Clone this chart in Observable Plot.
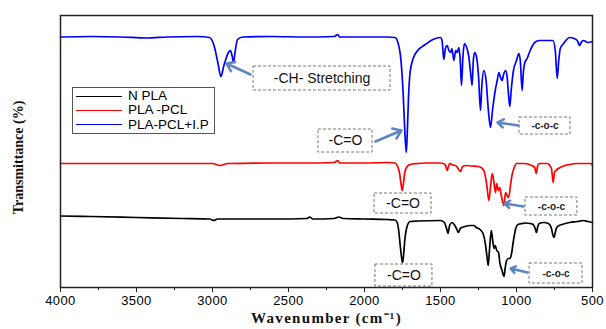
<!DOCTYPE html>
<html>
<head>
<meta charset="utf-8">
<script src="https://cdn.jsdelivr.net/npm/d3@7"></script>
<script src="https://cdn.jsdelivr.net/npm/@observablehq/plot@0.6"></script>
<style>
  body { margin: 0; background: #fff; }
  #chart { position: relative; width: 606px; height: 329px; }
  #legend {
    position: absolute; left: 72px; top: 87px;
    border: 1px solid #555; background: #fff;
    padding: 1px 5px 1px 3px;
    font-family: "Liberation Sans", Arial, sans-serif; font-size: 13.5px; line-height: 14.3px;
  }
  #legend .row { display: flex; align-items: center; white-space: nowrap; }
  #legend .sw { width: 46px; height: 0; border-top: 1.5px solid; margin-right: 6px; }
  .ann { font-family: "Liberation Sans", Arial, sans-serif; }
  .ttl { letter-spacing: 1.3px; }
  .tk text { letter-spacing: 0.4px; }
</style>
</head>
<body>
<div id="chart"><div id="legend"></div></div>
<script>
// ---- data (wavenumber cm^-1, offset transmittance a.u.) ----
const seriesNames = ["N PLA", "PLA -PCL", "PLA-PCL+I.P"];
const seriesColors = ["#000000", "#ff0000", "#0000ff"];

const blueWn = [4000,3800,3600,3430,3300,3100,3020,2990,2965,2945,2925,2895,2882,2870,2862,2852,2835,2800,2600,2400,2200,2175,2165,2000,1850,1800,1780,1760,1745,1735,1725,1718,1710,1700,1680,1650,1600,1550,1500,1490,1478,1468,1456,1445,1434,1425,1412,1400,1390,1379,1370,1362,1352,1342,1330,1315,1300,1292,1284,1276,1265,1250,1237,1228,1215,1200,1185,1171,1158,1140,1127,1116,1105,1095,1085,1072,1062,1052,1044,1035,1020,1000,985,975,963,955,945,930,910,880,850,800,760,745,732,722,712,690,650,620,600,585,575,560,530,500];
const blueT  = [250.5,251,250.5,249.5,250.5,251,250,242,225,211,222,235,237,231,225,235,248,250.5,251,250.5,251,253,250.5,250.5,250.5,250,245,227,192,157,135,157,192,215,229,237,243,248,250,247,228,239,242,237,235,239,227,237,235,240,227,202,232,244,241,232,212,202,227,235,232,212,177,202,217,207,177,160,177,197,207,215,210,207,213,217,211,192,181,197,217,227,234,227,197,215,225,229,237,245,247,247,247,237,209,227,239,244,250,249,247,242,245,247,245,246];

const redWn = [4000,3500,3000,2950,2900,2600,2400,2200,2175,2165,2000,1850,1800,1785,1770,1760,1752,1744,1735,1720,1700,1650,1600,1500,1470,1456,1448,1440,1420,1400,1385,1368,1355,1330,1300,1250,1215,1195,1182,1170,1160,1150,1138,1130,1120,1110,1100,1083,1072,1062,1051,1040,1030,1015,1000,950,900,880,870,862,850,800,770,759,750,740,725,700,650,600,550,510,500];
const redT  = [124,124,124,122,124,124.5,124.5,125,127,124.5,124.5,125,124.5,122,115,104,97,104,115,121,123,124,124.5,124.5,123,117,121,124,122.5,122,119,116,121,122,121.5,121,117,102,87,102,114,107,95,104,97,100,92,82,95,92,90,102,112,120,124,124,122,120,114,121,124,124,119,105,115,117,119,121,123,124,124,124,122];

const blackWn = [4000,3800,3500,3200,3020,2990,2970,2800,2600,2380,2360,2340,2200,2170,2140,2000,1850,1800,1785,1775,1765,1755,1750,1745,1735,1720,1700,1650,1500,1475,1460,1451,1440,1425,1410,1395,1382,1370,1340,1300,1280,1265,1240,1220,1205,1195,1186,1178,1166,1155,1147,1140,1130,1118,1110,1095,1082,1075,1065,1055,1044,1035,1020,1005,990,960,940,910,890,877,869,860,850,820,790,770,760,752,745,735,720,700,650,600,560,530,500];
const blackT  = [71.5,71,70,69,68.5,67,68.5,68.5,68.5,69,70.5,68.5,69,70.5,69,68.5,68,67.5,65,57,42,29,25,29,47,61,66,66.5,67,65,59,54,62,65,63,59,55,59,61,62,62,60,58,54,44,32,22,37,57,45,39,42,37,35,25,17,11,19,27,29,29,32,47,59,63,64,64.5,64,63,59,55,61,64,65,64,59,52,50,55,60,62,63,65,66,67,66,65];

const xTicks = [4000,3500,3000,2500,2000,1500,1000,500];
const xMinorTicks = [3750,3250,2750,2250,1750,1250,750];

// annotations: label, box (wn1, wn2, t1, t2), arrow (from wn,t -> to wn,t)
const annLabels = ["-CH- Stretching", "-C=O", "-c-o-c", "-C=O", "-c-o-c", "-C=O", "-c-o-c"];
const annSize   = [14, 14, 9, 14, 9, 14, 9];
const annBoxWn1 = [2730, 2303, 980, 1934, 941, 1928, 914];
const annBoxWn2 = [1829, 1947, 645, 1559, 599, 1553, 566];
const annBoxT1  = [221, 158, 170, 94, 90, 23, 24];
const annBoxT2  = [197, 135, 153, 74, 72, 1, 4];
const arrFromWn = [2750, 1928, 987, 954, 928];
const arrFromT  = [213, 146, 162, 81, 15];
const arrToWn   = [2908, 1757, 1125, 1079, 1039];
const arrToT    = [224, 157, 165, 84, 19];

// ---- build tables ----
const spectra = [];
[[blackWn, blackT, 0], [redWn, redT, 1], [blueWn, blueT, 2]].forEach(([w, t, k]) => {
  w.forEach((wn, i) => spectra.push({wn, t: t[i], s: seriesNames[k]}));
});
const ann = annLabels.map((label, i) => ({
  label, size: annSize[i],
  x1: annBoxWn1[i], x2: annBoxWn2[i], y1: annBoxT1[i], y2: annBoxT2[i],
  cx: (annBoxWn1[i] + annBoxWn2[i]) / 2, cy: (annBoxT1[i] + annBoxT2[i]) / 2
}));
const arrows = arrFromWn.map((w, i) => ({x1: w, y1: arrFromT[i], x2: arrToWn[i], y2: arrToT[i]}));

const plot = Plot.plot({
  width: 606, height: 329,
  marginLeft: 60, marginRight: 14, marginTop: 15, marginBottom: 42,
  style: {fontFamily: "'Liberation Sans', Arial, sans-serif", background: "#fff"},
  x: {domain: [4000, 500]},
  y: {domain: [0, 272], axis: null},
  color: {domain: seriesNames, range: seriesColors},
  marks: [
    Plot.line(spectra, {x: "wn", y: "t", z: "s", stroke: "s", strokeWidth: 1.7, curve: "monotone-x"}),
    Plot.rect(ann, {x1: "x1", x2: "x2", y1: "y1", y2: "y2", fill: "white", fillOpacity: 0.85, stroke: "#777", strokeDasharray: "3,2", strokeWidth: 1}),
    Plot.text(ann.filter(d => d.size > 10), {x: "cx", y: "cy", text: "label", fontSize: 14, fill: "#111", className: "ann"}),
    Plot.text(ann.filter(d => d.size <= 10), {x: "cx", y: "cy", text: "label", fontSize: 10, fontWeight: "bold", fill: "#222", className: "ann"}),
    Plot.arrow(arrows, {x1: "x1", y1: "y1", x2: "x2", y2: "y2", stroke: "#5b86c2", strokeWidth: 2.5, headLength: 8, headAngle: 70}),
    Plot.axisX(xTicks, {tickSize: 5, tickPadding: 3, fontSize: 13, tickFormat: d => String(d), label: null, stroke: "#222", className: "tk"}),
    Plot.axisX(xMinorTicks, {tickSize: 3, tickFormat: () => "", label: null, stroke: "#222"}),
    Plot.frame({stroke: "#222", strokeWidth: 1.5}),
    Plot.text(["Wavenumber (cm⁻¹)"], {frameAnchor: "bottom", dy: 35, fontSize: 15, fontWeight: "bold", fontFamily: "'Liberation Serif', 'Times New Roman', serif", fill: "#111", className: "ttl"}),
    Plot.text(["Transmittance (%)"], {x: () => 4000, y: () => 130, textAnchor: "middle", dx: -42, rotate: -90, fontSize: 14, fontWeight: "bold", fontFamily: "'Liberation Serif', 'Times New Roman', serif", fill: "#111"})
  ]
});
document.getElementById("chart").prepend(plot);

const legend = document.getElementById("legend");
seriesNames.forEach((n, i) => {
  const row = document.createElement("div");
  row.className = "row";
  row.innerHTML = `<span class="sw" style="border-color:${seriesColors[i]}"></span><span>${n}</span>`;
  legend.appendChild(row);
});
</script>
</body>
</html>
